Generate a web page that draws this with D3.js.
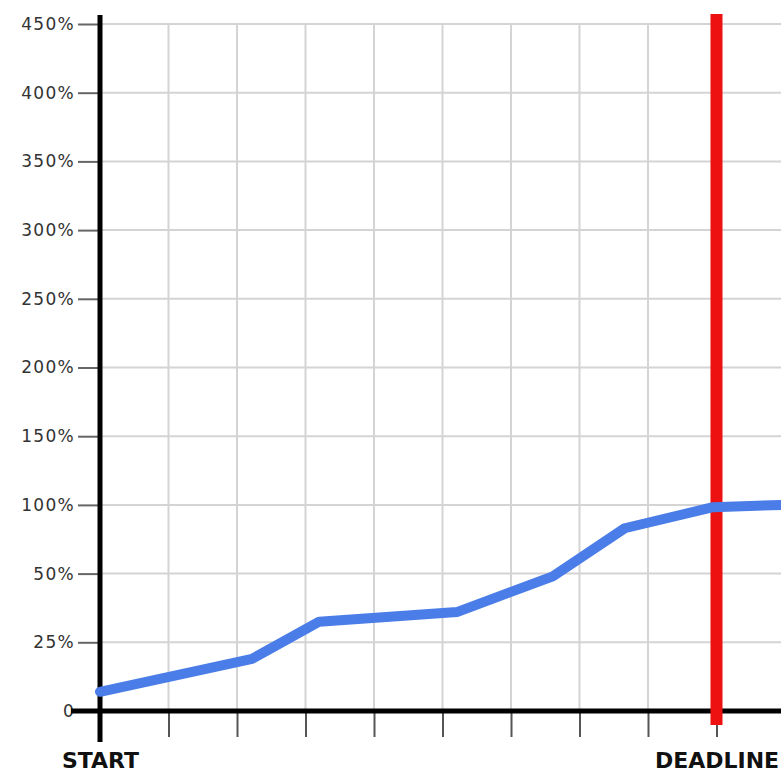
<!DOCTYPE html>
<html lang="en">
<head>
<meta charset="UTF-8">
<title>progress vs deadline</title>
<script src="https://cdn.jsdelivr.net/npm/d3@7"></script>
<style>
	body { margin: 0; background: #fff; }
	svg { display: block; background: #fff; }
	.ylab { font-family: "DejaVu Sans", Verdana, sans-serif; font-size: 17px; letter-spacing: 1.3px; fill: #333; }
	.xlab { font-family: "DejaVu Sans", Verdana, sans-serif; font-size: 22px; font-weight: bold; fill: #111; }
</style>
</head>
<body>
<div id="viz"></div>
<script>
// y ticks: uneven values, evenly spaced on the chart
var yTicks = [0, 25, 50, 100, 150, 200, 250, 300, 350, 400, 450];
// x in grid steps, deadline at step 9
var xTicks = [0, 1, 2, 3, 4, 5, 6, 7, 8, 9, 10];
var xLabels = {0: 'START', 9: 'DEADLINE'};
var deadline = 9;
// progress line (step, percent)
var stepX = [0, 2.22, 3.2, 5.21, 6.61, 7.66, 8.95, 9.94];
var pctY = [7, 19, 32.5, 36, 49, 83, 98.3, 100];

var width = 781, height = 773;
var plotLeft = 100, plotBottom = 711, plotTop = 24;

var x = d3.scaleLinear().domain([0, 10]).range([plotLeft, plotLeft + 685]);
var y = d3.scaleLinear()
	.domain(yTicks)
	.range(yTicks.map(function (d, i) { return plotBottom - i * (plotBottom - plotTop) / (yTicks.length - 1); }));

var svg = d3.select('#viz').append('svg')
	.attr('width', width)
	.attr('height', height);

// grid
svg.append('g').selectAll('line')
	.data(yTicks.slice(1))
	.enter().append('line')
	.attr('x1', plotLeft).attr('x2', width)
	.attr('y1', function (d) { return y(d); })
	.attr('y2', function (d) { return y(d); })
	.attr('stroke', '#d4d4d4').attr('stroke-width', 2);

svg.append('g').selectAll('line')
	.data(xTicks.slice(1))
	.enter().append('line')
	.attr('x1', function (d) { return x(d); })
	.attr('x2', function (d) { return x(d); })
	.attr('y1', plotTop).attr('y2', plotBottom)
	.attr('stroke', '#d4d4d4').attr('stroke-width', 2);

// y axis ticks + labels
var yAxis = d3.axisLeft(y)
	.tickValues(yTicks)
	.tickSize(22)
	.tickPadding(3)
	.tickFormat(function (d) { return d === 0 ? '0' : d + '%'; });

var gy = svg.append('g')
	.attr('transform', 'translate(' + plotLeft + ',0)')
	.call(yAxis);
gy.select('.domain').remove();
gy.selectAll('.tick line').attr('stroke', '#666').attr('stroke-width', 2);
gy.selectAll('.tick text').attr('class', 'ylab').attr('font-size', null).attr('font-family', null).attr('fill', null);

// x axis ticks + labels
var xAxis = d3.axisBottom(x)
	.tickValues(xTicks)
	.tickSize(26)
	.tickPadding(15)
	.tickFormat(function (d) { return xLabels[d] || ''; });

var gx = svg.append('g')
	.attr('transform', 'translate(0,' + plotBottom + ')')
	.call(xAxis);
gx.select('.domain').remove();
gx.selectAll('.tick line').attr('stroke', '#555').attr('stroke-width', 2);
gx.selectAll('.tick text').attr('class', 'xlab').attr('font-size', null).attr('font-family', null).attr('fill', null);

// black axis lines
svg.append('line')
	.attr('x1', 71).attr('x2', width)
	.attr('y1', plotBottom).attr('y2', plotBottom)
	.attr('stroke', '#000').attr('stroke-width', 5);
svg.append('line')
	.attr('x1', plotLeft).attr('x2', plotLeft)
	.attr('y1', 15).attr('y2', 742)
	.attr('stroke', '#000').attr('stroke-width', 5);

// deadline
svg.append('line')
	.attr('x1', x(deadline)).attr('x2', x(deadline))
	.attr('y1', 14).attr('y2', 725)
	.attr('stroke', '#ee1111').attr('stroke-width', 12);

// progress
var line = d3.line()
	.x(function (d) { return x(d[0]); })
	.y(function (d) { return y(d[1]); });

svg.append('path')
	.datum(d3.zip(stepX, pctY))
	.attr('d', line)
	.attr('fill', 'none')
	.attr('stroke', '#4a7de8')
	.attr('stroke-width', 10)
	.attr('stroke-linejoin', 'round')
	.attr('stroke-linecap', 'round');
</script>
</body>
</html>
